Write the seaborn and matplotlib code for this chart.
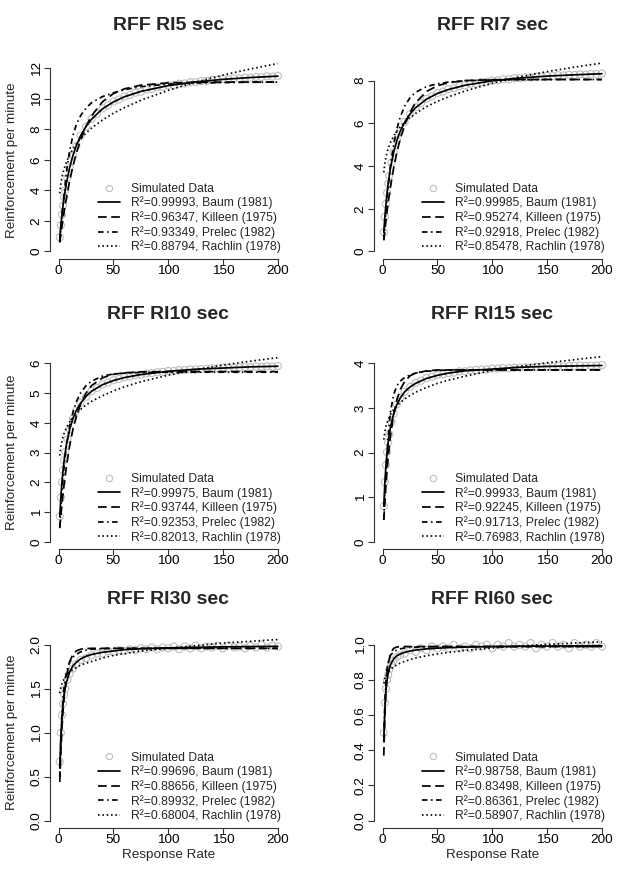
import matplotlib
matplotlib.use("Agg")
import matplotlib.pyplot as plt
from matplotlib.lines import Line2D
import seaborn as sns

sns.set_style("ticks")
plt.rcParams['font.family'] = ['Liberation Sans', 'DejaVu Sans']

# response rates of the simulated points and of the fitted curves
x_data = [1, 2, 3, 4, 5, 6, 8, 10, 13, 16] + list(range(20, 205, 5))
x_fit = [1, 2, 3, 4, 5, 7, 10, 13, 16, 20, 25, 30, 40, 50, 60, 75, 100, 125, 150, 175, 200]

model_names = ["Baum (1981)", "Killeen (1975)", "Prelec (1982)", "Rachlin (1978)"]

# ---- RI5 sec
data_ri5 = [0.92, 1.72, 2.41, 3.01, 3.55, 4.02, 4.83, 5.50, 6.29, 6.92,
            7.60, 8.18, 8.69, 9.02, 9.37, 9.58, 9.83, 9.96, 10.16, 10.25,
            10.41, 10.47, 10.61, 10.65, 10.77, 10.79, 10.90, 10.91, 11.00, 11.01,
            11.09, 11.10, 11.17, 11.17, 11.24, 11.23, 11.30, 11.29, 11.35, 11.34,
            11.40, 11.38, 11.44, 11.43, 11.48, 11.46, 11.51]
baum_ri5 = [0.92, 1.72, 2.41, 3.01, 3.55, 4.45, 5.49, 6.29, 6.92, 7.58, 8.20, 8.67, 9.35, 9.80, 10.14, 10.49, 10.87, 11.11, 11.28, 11.40, 11.49]
killeen_ri5 = [0.58, 1.13, 1.66, 2.15, 2.62, 3.48, 4.62, 5.58, 6.41, 7.31, 8.21, 8.89, 9.81, 10.35, 10.66, 10.90, 11.05, 11.09, 11.10, 11.10, 11.10]
prelec_ri5 = [0.65, 1.45, 2.30, 3.10, 3.85, 5.15, 6.60, 7.60, 8.30, 8.90, 9.40, 9.75, 10.15, 10.40, 10.60, 10.80, 10.97, 11.04, 11.07, 11.09, 11.10]
rachlin_ri5 = [3.80, 4.43, 4.85, 5.17, 5.43, 5.85, 6.34, 6.72, 7.03, 7.39, 7.76, 8.09, 8.62, 9.06, 9.43, 9.91, 10.56, 11.10, 11.56, 11.96, 12.32]
r2_ri5 = ["0.99993", "0.96347", "0.93349", "0.88794"]

# ---- RI7 sec
data_ri7 = [0.90, 1.62, 2.23, 2.74, 3.17, 3.55, 4.16, 4.65, 5.21, 5.63,
            6.06, 6.43, 6.75, 6.94, 7.15, 7.26, 7.42, 7.48, 7.60, 7.64,
            7.74, 7.77, 7.85, 7.86, 7.93, 7.94, 8.00, 8.01, 8.06, 8.06,
            8.11, 8.11, 8.15, 8.15, 8.19, 8.18, 8.22, 8.21, 8.25, 8.24,
            8.27, 8.26, 8.29, 8.28, 8.31, 8.30, 8.33]
baum_ri7 = [0.90, 1.63, 2.23, 2.74, 3.17, 3.88, 4.65, 5.21, 5.63, 6.05, 6.44, 6.73, 7.13, 7.40, 7.58, 7.78, 7.99, 8.12, 8.21, 8.27, 8.32]
killeen_ri7 = [0.52, 1.00, 1.46, 1.88, 2.28, 3.00, 3.91, 4.66, 5.27, 5.92, 6.52, 6.96, 7.49, 7.76, 7.90, 8.00, 8.04, 8.05, 8.05, 8.05, 8.05]
prelec_ri7 = [0.55, 1.20, 1.85, 2.50, 3.05, 4.00, 5.00, 5.75, 6.30, 6.80, 7.20, 7.45, 7.72, 7.85, 7.93, 7.99, 8.03, 8.04, 8.05, 8.05, 8.05]
rachlin_ri7 = [3.70, 4.15, 4.43, 4.64, 4.82, 5.09, 5.40, 5.63, 5.83, 6.05, 6.27, 6.46, 6.78, 7.03, 7.24, 7.51, 7.88, 8.17, 8.42, 8.63, 8.82]
r2_ri7 = ["0.99985", "0.95274", "0.92918", "0.85478"]

# ---- RI10 sec
data_ri10 = [0.86, 1.50, 2.01, 2.41, 2.74, 3.02, 3.45, 3.78, 4.14, 4.41,
             4.67, 4.88, 5.07, 5.17, 5.29, 5.35, 5.43, 5.47, 5.53, 5.55,
             5.60, 5.62, 5.66, 5.67, 5.70, 5.71, 5.74, 5.74, 5.77, 5.77,
             5.79, 5.79, 5.81, 5.81, 5.83, 5.83, 5.85, 5.84, 5.86, 5.86,
             5.87, 5.87, 5.89, 5.88, 5.90, 5.89, 5.91]
baum_ri10 = [0.86, 1.50, 2.01, 2.41, 2.74, 3.25, 3.78, 4.14, 4.41, 4.66, 4.89, 5.06, 5.28, 5.42, 5.52, 5.62, 5.73, 5.80, 5.84, 5.88, 5.90]
killeen_ri10 = [0.46, 0.88, 1.26, 1.62, 1.94, 2.52, 3.23, 3.78, 4.20, 4.63, 5.00, 5.25, 5.51, 5.63, 5.68, 5.71, 5.72, 5.72, 5.72, 5.72, 5.72]
prelec_ri10 = [0.50, 1.10, 1.65, 2.15, 2.55, 3.20, 3.90, 4.35, 4.70, 5.00, 5.25, 5.40, 5.57, 5.64, 5.67, 5.69, 5.70, 5.70, 5.70, 5.70, 5.70]
rachlin_ri10 = [2.90, 3.20, 3.39, 3.54, 3.65, 3.83, 4.03, 4.18, 4.31, 4.45, 4.60, 4.72, 4.91, 5.07, 5.21, 5.38, 5.60, 5.78, 5.94, 6.07, 6.19]
r2_ri10 = ["0.99975", "0.93744", "0.92353", "0.82013"]

# ---- RI15 sec
data_ri15 = [0.80, 1.34, 1.72, 2.01, 2.23, 2.41, 2.68, 2.87, 3.08, 3.22,
             3.36, 3.47, 3.56, 3.61, 3.67, 3.70, 3.74, 3.75, 3.78, 3.79,
             3.82, 3.82, 3.84, 3.85, 3.86, 3.86, 3.88, 3.88, 3.89, 3.89,
             3.90, 3.90, 3.91, 3.91, 3.92, 3.92, 3.93, 3.92, 3.94, 3.93,
             3.94, 3.94, 3.95, 3.94, 3.95, 3.95, 3.96]
baum_ri15 = [0.80, 1.34, 1.72, 2.01, 2.23, 2.56, 2.87, 3.08, 3.22, 3.36, 3.47, 3.55, 3.66, 3.73, 3.78, 3.83, 3.87, 3.91, 3.93, 3.94, 3.95]
killeen_ri15 = [0.49, 0.91, 1.28, 1.61, 1.89, 2.35, 2.85, 3.18, 3.41, 3.59, 3.72, 3.78, 3.83, 3.85, 3.85, 3.85, 3.85, 3.85, 3.85, 3.85, 3.85]
prelec_ri15 = [0.50, 1.05, 1.55, 1.98, 2.35, 2.90, 3.30, 3.50, 3.60, 3.68, 3.74, 3.78, 3.82, 3.84, 3.85, 3.85, 3.85, 3.85, 3.85, 3.85, 3.85]
rachlin_ri15 = [2.29, 2.47, 2.59, 2.67, 2.74, 2.85, 2.96, 3.05, 3.12, 3.20, 3.28, 3.35, 3.46, 3.55, 3.62, 3.71, 3.84, 3.93, 4.01, 4.08, 4.15]
r2_ri15 = ["0.99933", "0.92245", "0.91713", "0.76983"]

# ---- RI30 sec
data_ri30 = [0.67, 1.00, 1.20, 1.33, 1.43, 1.50, 1.60, 1.67, 1.73, 1.78,
             1.83, 1.85, 1.88, 1.90, 1.90, 1.93, 1.92, 1.94, 1.93, 1.95,
             1.94, 1.96, 1.95, 1.97, 1.95, 1.97, 1.96, 1.98, 1.95, 1.98,
             1.96, 1.99, 1.96, 1.98, 1.97, 1.99, 1.96, 1.99, 1.97, 1.98,
             1.96, 1.99, 1.97, 2.00, 1.97, 1.99, 1.98]
baum_ri30 = [0.60, 0.95, 1.18, 1.33, 1.44, 1.57, 1.69, 1.76, 1.80, 1.84, 1.87, 1.89, 1.915, 1.93, 1.945, 1.955, 1.965, 1.972, 1.977, 1.980, 1.983]
killeen_ri30 = [0.44, 0.78, 1.05, 1.25, 1.41, 1.63, 1.81, 1.89, 1.93, 1.95, 1.957, 1.96, 1.96, 1.96, 1.96, 1.96, 1.96, 1.96, 1.96, 1.96, 1.96]
prelec_ri30 = [0.50, 0.90, 1.20, 1.40, 1.53, 1.69, 1.80, 1.86, 1.89, 1.92, 1.94, 1.95, 1.955, 1.96, 1.96, 1.96, 1.96, 1.96, 1.96, 1.96, 1.96]
rachlin_ri30 = [1.45, 1.52, 1.56, 1.59, 1.61, 1.65, 1.69, 1.72, 1.74, 1.77, 1.79, 1.81, 1.85, 1.88, 1.90, 1.93, 1.96, 1.99, 2.02, 2.04, 2.06]
r2_ri30 = ["0.99696", "0.88656", "0.89932", "0.68004"]

# ---- RI60 sec
data_ri60 = [0.50, 0.67, 0.75, 0.80, 0.83, 0.86, 0.89, 0.91, 0.93, 0.94,
             0.95, 0.97, 0.96, 0.98, 0.97, 0.99, 0.98, 0.99, 0.98, 1.00,
             0.98, 0.99, 0.98, 1.00, 0.99, 1.00, 0.98, 1.00, 0.99, 1.01,
             0.99, 1.00, 0.99, 1.01, 0.98, 1.00, 0.99, 1.01, 0.99, 1.00,
             0.98, 1.01, 0.99, 1.00, 0.99, 1.01, 0.99]
baum_ri60 = [0.45, 0.64, 0.74, 0.80, 0.84, 0.885, 0.92, 0.938, 0.948, 0.957, 0.965, 0.970, 0.977, 0.981, 0.984, 0.987, 0.990, 0.992, 0.993, 0.994, 0.995]
killeen_ri60 = [0.37, 0.60, 0.75, 0.84, 0.89, 0.95, 0.98, 0.988, 0.989, 0.99, 0.99, 0.99, 0.99, 0.99, 0.99, 0.99, 0.99, 0.99, 0.99, 0.99, 0.99]
prelec_ri60 = [0.45, 0.68, 0.80, 0.86, 0.90, 0.94, 0.96, 0.97, 0.977, 0.982, 0.985, 0.987, 0.989, 0.99, 0.99, 0.99, 0.99, 0.99, 0.99, 0.99, 0.99]
rachlin_ri60 = [0.780, 0.808, 0.824, 0.836, 0.845, 0.860, 0.875, 0.887, 0.896, 0.906, 0.916, 0.925, 0.938, 0.948, 0.957, 0.968, 0.982, 0.993, 1.002, 1.010, 1.017]
r2_ri60 = ["0.98758", "0.83498", "0.86361", "0.58907"]

titles = ["RFF RI5 sec", "RFF RI7 sec", "RFF RI10 sec", "RFF RI15 sec", "RFF RI30 sec", "RFF RI60 sec"]
ymax = [12, 60 / 7, 6, 4, 2, 1]
yticks = [[0, 2, 4, 6, 8, 10, 12], [0, 2, 4, 6, 8], [0, 1, 2, 3, 4, 5, 6],
          [0, 1, 2, 3, 4], [0.0, 0.5, 1.0, 1.5, 2.0], [0.0, 0.2, 0.4, 0.6, 0.8, 1.0]]
yfmt = ["{:.0f}", "{:.0f}", "{:.0f}", "{:.0f}", "{:.1f}", "{:.1f}"]

panels = [
    (data_ri5, baum_ri5, killeen_ri5, prelec_ri5, rachlin_ri5, r2_ri5),
    (data_ri7, baum_ri7, killeen_ri7, prelec_ri7, rachlin_ri7, r2_ri7),
    (data_ri10, baum_ri10, killeen_ri10, prelec_ri10, rachlin_ri10, r2_ri10),
    (data_ri15, baum_ri15, killeen_ri15, prelec_ri15, rachlin_ri15, r2_ri15),
    (data_ri30, baum_ri30, killeen_ri30, prelec_ri30, rachlin_ri30, r2_ri30),
    (data_ri60, baum_ri60, killeen_ri60, prelec_ri60, rachlin_ri60, r2_ri60),
]

line_styles = ['-', (0, (5, 2.6)), (0, (3.2, 2.0, 0.9, 2.0)), (0, (0.9, 1.6))]
grey = '#bebebe'
lw = 1.25

col_left = [0.0801, 0.6002]
col_width = 0.3800
row_bottom = [0.7032, 0.3704, 0.0508]
row_height = [0.2268, 0.2212, 0.2178]
title_pad = [22.3, 27.0, 24.3]

fig = plt.figure(figsize=(6.23, 8.72), dpi=100)

for i, (data, baum, killeen, prelec, rachlin, r2) in enumerate(panels):
    r, c = i // 2, i % 2
    ax = fig.add_axes([col_left[c], row_bottom[r], col_width, row_height[r]])

    sns.scatterplot(x=x_data, y=data, ax=ax, marker='o', s=26,
                    facecolors='none', edgecolor=grey, linewidth=0.8, zorder=1)
    for vals, ls in zip([baum, killeen, prelec, rachlin], line_styles):
        sns.lineplot(x=x_fit, y=vals, ax=ax, color='black', linewidth=lw,
                     linestyle=ls, zorder=2)

    ax.set_xlim(-8, 208)
    ax.set_ylim(-0.04 * ymax[i], 1.04 * ymax[i])
    ax.set_xticks([0, 50, 100, 150, 200])
    ax.set_yticks(yticks[i])
    ax.set_yticklabels([yfmt[i].format(v) for v in yticks[i]])
    for lab in ax.get_yticklabels():
        lab.set_rotation(90)
        lab.set_va('center')

    sns.despine(ax=ax)
    ax.spines['left'].set_bounds(0, yticks[i][-1])
    ax.spines['bottom'].set_bounds(0, 200)
    for s in ['left', 'bottom']:
        ax.spines[s].set_linewidth(0.8)
        ax.spines[s].set_color('#333333')
    ax.tick_params(direction='out', length=4, width=0.8, color='#333333',
                   labelsize=9.7, labelcolor='black')
    ax.tick_params(axis='x', pad=0.3)
    ax.tick_params(axis='y', pad=1.2)

    ax.set_title(titles[i], fontsize=14, fontweight='bold', pad=title_pad[r])

    if c == 0:
        ax.set_ylabel("Reinforcement per minute", fontsize=9.7)
        ax.yaxis.set_label_coords(-0.135, 0.5)
    else:
        ax.set_ylabel("")
    if r == 2:
        ax.set_xlabel("Response Rate", fontsize=9.7)
        ax.xaxis.set_label_coords(0.5, -0.11)
    else:
        ax.set_xlabel("")

    handles = [Line2D([], [], marker='o', ls='none', mfc='none', mec=grey, ms=4.5, mew=0.8)]
    labels = ["Simulated Data"]
    for name, val, ls in zip(model_names, r2, line_styles):
        handles.append(Line2D([], [], color='black', lw=lw, ls=ls))
        labels.append("R\u00b2=" + val + ", " + name)
    ax.legend(handles, labels, loc='lower right', frameon=False, fontsize=8.7,
              handlelength=1.8, handletextpad=0.95, labelspacing=0.15,
              borderpad=0.45, borderaxespad=0)

fig.savefig("out.png", dpi=100)
